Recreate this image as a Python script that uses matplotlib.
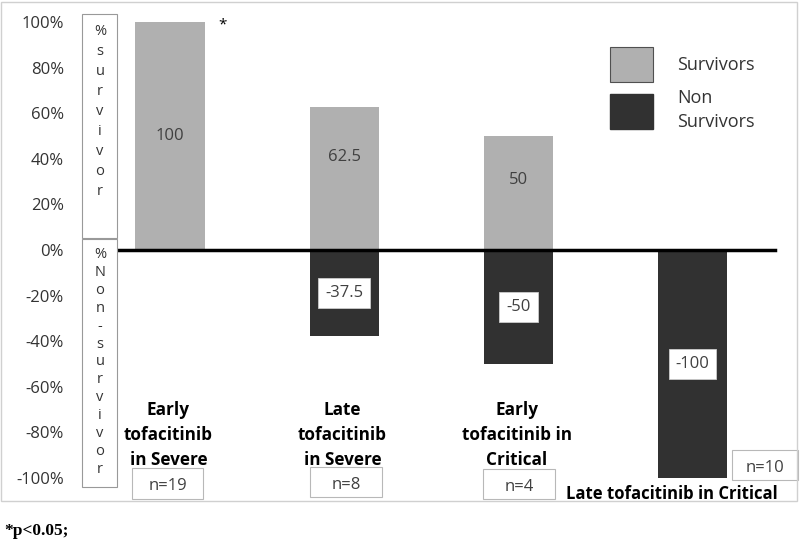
import matplotlib.pyplot as plt
import numpy as np
from matplotlib.patches import Patch, Rectangle

plt.rcParams["font.family"] = ["Open Sans", "DejaVu Sans"]

# data
groups = ["Early\ntofacitinib\nin Severe", "Late\ntofacitinib\nin Severe",
          "Early\ntofacitinib in\nCritical", "Late tofacitinib in Critical"]
n_labels = ["n=19", "n=8", "n=4", "n=10"]
survivors = [100, 62.5, 50, 0]
non_survivors = [0, -37.5, -50, -100]
yticks = [-100, -80, -60, -40, -20, 0, 20, 40, 60, 80, 100]

grey = "#b0b0b0"
dark = "#313131"
txt = "#333333"

fig = plt.figure(figsize=(8, 5.52), dpi=100)
# outer chart frame
fig.patches.append(Rectangle((1 / 800, 51 / 552), 796 / 800, 499 / 552,
                             transform=fig.transFigure, fill=False,
                             edgecolor="#d0d0d0", linewidth=1))

ax = fig.add_axes([118 / 800, 74 / 552, 679 / 800, 456 / 552])
x = np.arange(len(groups))
ax.bar(x, survivors, width=0.4, color=grey)
ax.bar(x, non_survivors, width=0.4, color=dark)
ax.axhline(0, xmin=0, xmax=0.967, color="black", linewidth=2.5)

ax.set_xlim(-0.3, 3.6)
ax.set_ylim(-100, 100)
ax.set_yticks(yticks)
ax.set_yticklabels([f"{t}%" for t in yticks], fontsize=12, color=txt)
ax.tick_params(axis="y", length=0, pad=39)
ax.set_xticks([])
for s in ax.spines.values():
    s.set_visible(False)

# value labels
surv_label_frac = [0.5, 0.65, 0.61]
for i, v in enumerate(survivors):
    if v > 0:
        ax.text(x[i], v * surv_label_frac[i], f"{v:g}", ha="center", va="center",
                fontsize=12, color="#404040")
for i, v in enumerate(non_survivors):
    if v < 0:
        ax.text(x[i], v / 2, f"{v:g}", ha="center", va="center", fontsize=12,
                color="#404040",
                bbox=dict(boxstyle="square,pad=0.42", fc="white", ec="#cccccc", lw=0.6))

ax.text(x[0] + 0.30, 98.5, "*", fontsize=11, ha="center", va="center",
        color="black", clip_on=False)

# group labels and n boxes
for i in range(3):
    ax.text(x[i] - 0.01, -81, groups[i], ha="center", va="center", fontsize=12.3,
            fontweight="bold", linespacing=1.5, color="black")
ax.text(x[3] - 0.12, -107, groups[3], ha="center", va="center", fontsize=12,
        fontweight="bold", color="black", clip_on=False)
n_box = [(x[0] - 0.014, -102.4, 0.41, 13.2), (x[1] + 0.009, -101.7, 0.41, 13.2),
         (x[2] + 0.003, -102.6, 0.41, 13.2), (x[3] + 0.414, -94.3, 0.38, 13.2)]
for (cx, cy, w, h), lab in zip(n_box, n_labels):
    ax.add_patch(Rectangle((cx - w / 2, cy - h / 2), w, h, fc="white",
                           ec="#b8b8b8", lw=0.8, clip_on=False, zorder=3))
    ax.text(cx, cy - 1.2, lab, ha="center", va="center", fontsize=12,
            color="#404040", clip_on=False, zorder=4)

# side axis label boxes
fig.patches.append(Rectangle((82 / 800, (552 - 238) / 552), 35 / 800, 224 / 552,
                             transform=fig.transFigure, fill=False,
                             edgecolor="#999999", linewidth=0.8))
fig.patches.append(Rectangle((82 / 800, (552 - 487) / 552), 35 / 800, 248 / 552,
                             transform=fig.transFigure, fill=False,
                             edgecolor="#999999", linewidth=0.8))
fig.text(100 / 800, (552 - 24) / 552, "\n".join("%survivor"), ha="center", va="top",
         fontsize=10.5, color=txt, linespacing=1.45)
fig.text(100 / 800, (552 - 247) / 552, "\n".join("%Non-survivor"), ha="center",
         va="top", fontsize=10.5, color=txt, linespacing=1.265)

# legend
handles = [Patch(facecolor=grey, edgecolor="#505050", linewidth=0.8),
           Patch(facecolor=dark, edgecolor=dark)]
leg = ax.legend(handles, ["Survivors", "Non\nSurvivors"], loc="upper left",
                bbox_to_anchor=((610 - 118) / 679, (456 - 25) / 456), frameon=False,
                borderpad=0, borderaxespad=0,
                fontsize=13, handlelength=2.38, handleheight=2.6, labelspacing=0.4,
                handletextpad=1.33, labelcolor=txt)
leg.get_texts()[1].set_linespacing(1.4)

fig.text(4 / 800, (552 - 531) / 552, "*p<0.05;", fontsize=12.5, fontweight="bold",
         family="Liberation Serif", va="center")

fig.savefig("out.png", dpi=100)
